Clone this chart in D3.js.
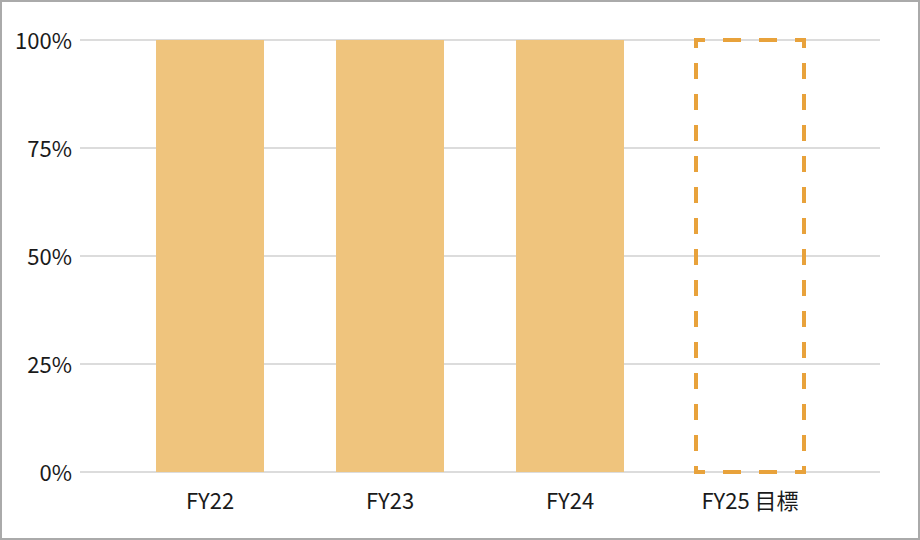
<!DOCTYPE html>
<html>
<head>
<meta charset="utf-8">
<script src="https://cdn.jsdelivr.net/npm/d3@7"></script>
<style>
  html, body { margin: 0; padding: 0; background: #fff; }
  svg { display: block; }
  text { font-family: "Noto Sans CJK JP", "Noto Sans", sans-serif; fill: #1a1a1a; }
</style>
</head>
<body>
<svg id="chart" width="920" height="540"></svg>
<script>
const categories = ["FY22", "FY23", "FY24", "FY25 目標"];
const values = [1, 1, 1, null];
const targetValues = [null, null, null, 1];
const yTicks = [0, 0.25, 0.5, 0.75, 1];

const W = 920, H = 540;
const svg = d3.select("#chart");

svg.append("rect").attr("x", 1).attr("y", 1).attr("width", W - 2).attr("height", H - 2)
  .attr("fill", "#fff").attr("stroke", "#aaaaaa").attr("stroke-width", 2);

const y = d3.scaleLinear().domain([0, 1]).range([472, 40]);
const x = d3.scaleBand().domain(categories).range([120, 840]).paddingInner(0.4).paddingOuter(0.2);

// gridlines
svg.append("g").selectAll("line").data(yTicks).join("line")
  .attr("x1", 80).attr("x2", 880)
  .attr("y1", d => y(d)).attr("y2", d => y(d))
  .attr("stroke", "#d0d0d0").attr("stroke-width", 1.5);

// y labels
svg.append("g").selectAll("text").data(yTicks).join("text")
  .attr("x", 72).attr("y", d => y(d) - 1)
  .attr("text-anchor", "end").attr("dominant-baseline", "central")
  .attr("font-size", 22)
  .text(d => d3.format(".0%")(d));

// bars
svg.append("g").selectAll("rect").data(categories.map((c, i) => ({c, v: values[i]})).filter(d => d.v != null))
  .join("rect")
  .attr("x", d => x(d.c)).attr("width", x.bandwidth())
  .attr("y", d => y(d.v)).attr("height", d => y(0) - y(d.v))
  .attr("fill", "#EFC47D");

// target dashed box, drawn as four sides
const targets = categories.map((c, i) => ({c, v: targetValues[i]})).filter(d => d.v != null);
targets.forEach(d => {
  const x0 = x(d.c), x1 = x(d.c) + x.bandwidth();
  const y0 = y(d.v), y1 = y(0);
  const g = svg.append("g").attr("stroke", "#E8A23B").attr("stroke-width", 4)
    .attr("stroke-linecap", "square").attr("fill", "none");
  const sides = [
    {x1: x0, y1: y0, x2: x1, y2: y0, h: true},
    {x1: x0, y1: y1, x2: x1, y2: y1, h: true},
    {x1: x0, y1: y0, x2: x0, y2: y1, h: false},
    {x1: x1, y1: y0, x2: x1, y2: y1, h: false}
  ];
  g.selectAll("line").data(sides).join("line")
    .attr("x1", s => s.x1).attr("y1", s => s.y1)
    .attr("x2", s => s.x2).attr("y2", s => s.y2)
    .attr("stroke-dasharray", s => s.h ? "14,22" : "12,19")
    .attr("stroke-dashoffset", s => s.h ? 7 : 6);
});

// x labels
svg.append("g").selectAll("text").data(categories).join("text")
  .attr("x", d => x(d) + x.bandwidth() / 2).attr("y", 499)
  .attr("text-anchor", "middle").attr("dominant-baseline", "central")
  .attr("font-size", 22)
  .text(d => d);
</script>
</body>
</html>
